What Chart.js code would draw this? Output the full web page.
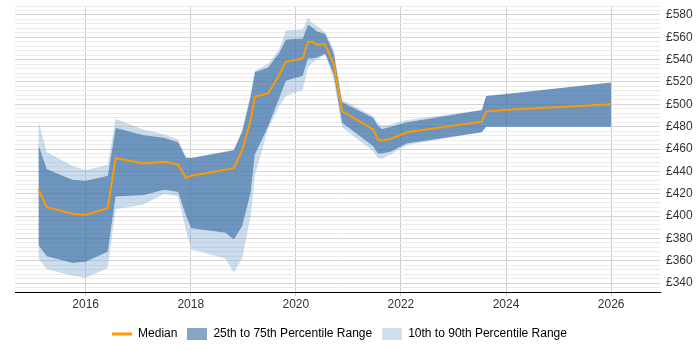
<!DOCTYPE html>
<html>
<head>
<meta charset="utf-8">
<script src="https://cdn.jsdelivr.net/npm/chart.js@4.4.0/dist/chart.umd.min.js"></script>
<style>
html,body{margin:0;padding:0;background:#ffffff;}
#wrap{width:700px;height:350px;}
</style>
</head>
<body>
<div id="wrap"><canvas id="c" width="700" height="350"></canvas></div>
<script>
// ---- data ----
const years  = [2015.10, 2015.26, 2015.75, 2016.00, 2016.42, 2016.57, 2017.09, 2017.50, 2017.76, 2017.91, 2018.01, 2018.66, 2018.82, 2018.98, 2019.14, 2019.22, 2019.47, 2019.68, 2019.81, 2020.13, 2020.23, 2020.31, 2020.40, 2020.56, 2020.72, 2020.88, 2021.47, 2021.56, 2021.64, 2021.80, 2022.11, 2023.54, 2023.62, 2023.95, 2026.00];
const median = [424, 408, 402, 401, 407, 452, 447, 448.5, 446, 434, 436, 441.5, 443, 459, 486, 507, 509.5, 526, 538, 541, 556, 556, 553.5, 553.5, 536, 494, 477.5, 468.5, 467.5, 469, 475, 484.5, 493.5, 495, 500];
const p75    = [464, 442, 432.5, 431.5, 436, 479, 472.5, 470, 466, 452, 452, 457.5, 459, 476, 507, 529, 533, 546, 558, 559, 571.5, 569, 565.5, 563, 546, 502, 488, 481, 478, 480, 484, 495, 507.5, 509, 519.5];
const p25    = [374, 364, 358, 359, 368, 417.5, 418.5, 423.5, 421.5, 400, 389, 385, 379, 391, 421, 455, 480, 505, 521, 525.5, 541, 541, 542, 545, 527, 483.5, 462.5, 456, 456, 457.5, 465, 475, 480, 480, 480];
const p90    = [485, 457, 445, 441, 446, 487, 477.5, 473, 468.5, 453, 452, 458, 459, 477, 510, 530, 536, 549, 566, 567, 577.5, 573, 570, 564.5, 549, 504, 489.5, 483, 481, 482, 486, 495, 507.5, 509, 519.5];
const p10    = [362, 352.5, 346.5, 344.5, 353.5, 406, 410, 420, 417.5, 387, 370, 362, 349.5, 362.5, 400, 436, 478, 498, 507.5, 513, 533, 537, 540, 545, 522, 479.5, 458, 452, 451.5, 455, 463.5, 475, 480, 480, 480];
const xTickYears = [2016, 2018, 2020, 2022, 2024, 2026];
const yMin = 332, yMax = 588, yGridStep = 4, yLabelStep = 20;
const legendNames = ['Median', '25th to 75th Percentile Range', '10th to 90th Percentile Range'];

// ---- styling ----
const ORANGE = '#ff9900';
const DARK = 'rgba(59,112,166,0.74)';
const LIGHT = 'rgba(140,178,216,0.45)';
const LEG_DARK = '#87a5c5';
const LEG_LIGHT = '#cfdfee';

const pts = arr => arr.map((v, i) => ({x: years[i], y: v}));

function legendIcon(kind, color) {
  const c = document.createElement('canvas');
  c.width = 20; c.height = 12;
  const g = c.getContext('2d');
  g.fillStyle = color;
  if (kind === 'line') g.fillRect(0, 4.5, 20, 3);
  else g.fillRect(0, 0, 20, 12);
  return c;
}

Chart.defaults.font.family = 'Arial, "Liberation Sans", sans-serif';
Chart.defaults.font.size = 12;
Chart.defaults.color = '#333333';

const legendShift = {
  id: 'legendShift',
  afterLayout(chart) {
    const l = chart.legend;
    if (l) { l.left -= 18; l.right -= 18; }
  }
};

const band = {borderWidth: 0, pointRadius: 0, pointHoverRadius: 0, tension: 0};

new Chart(document.getElementById('c'), {
  type: 'line',
  data: {
    datasets: [
      {label: legendNames[0], data: pts(median), borderColor: ORANGE, borderWidth: 2, pointRadius: 0, fill: false, tension: 0},
      Object.assign({label: 'p90', data: pts(p90), backgroundColor: LIGHT, fill: '+1'}, band),
      Object.assign({label: legendNames[1], data: pts(p75), backgroundColor: DARK, fill: '+1'}, band),
      Object.assign({label: legendNames[2], data: pts(p25), backgroundColor: LIGHT, fill: '+1'}, band),
      Object.assign({label: 'p10', data: pts(p10), backgroundColor: LIGHT, fill: false}, band)
    ]
  },
  options: {
    responsive: false,
    animation: false,
    devicePixelRatio: 1,
    layout: {padding: {left: 15, right: 0, top: 6, bottom: 0}},
    plugins: {
      tooltip: {enabled: false},
      legend: {
        position: 'bottom',
        labels: {
          usePointStyle: true,
          pointStyleWidth: 20,
          padding: 10,
          color: '#333333',
          font: {size: 12},
          generateLabels: () => [
            {text: legendNames[0], pointStyle: legendIcon('line', ORANGE), fillStyle: ORANGE, strokeStyle: ORANGE, lineWidth: 0, datasetIndex: 0},
            {text: legendNames[1], pointStyle: legendIcon('box', LEG_DARK), fillStyle: LEG_DARK, strokeStyle: LEG_DARK, lineWidth: 0, datasetIndex: 2},
            {text: legendNames[2], pointStyle: legendIcon('box', LEG_LIGHT), fillStyle: LEG_LIGHT, strokeStyle: LEG_LIGHT, lineWidth: 0, datasetIndex: 3}
          ]
        }
      }
    },
    scales: {
      x: {
        type: 'linear',
        min: 2014.655,
        max: 2026.93,
        afterBuildTicks: s => { s.ticks = xTickYears.map(v => ({value: v})); },
        afterFit: s => { s.height = 26; s.paddingLeft = 0; s.paddingRight = 0; },
        ticks: {autoSkip: false, maxRotation: 0, padding: 1, color: '#333333', callback: v => String(v)},
        grid: {color: '#cccccc', tickLength: 4, drawTicks: true},
        border: {display: true, color: '#000000', width: 1}
      },
      y: {
        type: 'linear',
        position: 'right',
        min: yMin,
        max: yMax,
        afterBuildTicks: s => { const t = []; for (let v = yMin; v <= yMax; v += yGridStep) t.push({value: v}); s.ticks = t; },
        afterFit: s => { s.width = 40; s.paddingTop = 0; s.paddingBottom = 0; },
        ticks: {autoSkip: false, padding: 6, color: '#333333', callback: v => (v % yLabelStep === 0 ? '£' + v : '')},
        grid: {drawTicks: false, color: c => (c.tick && c.tick.value % yLabelStep === 0 ? '#d4d4d4' : '#ebebeb')},
        border: {display: false}
      }
    }
  },
  plugins: [legendShift]
});
</script>
</body>
</html>
